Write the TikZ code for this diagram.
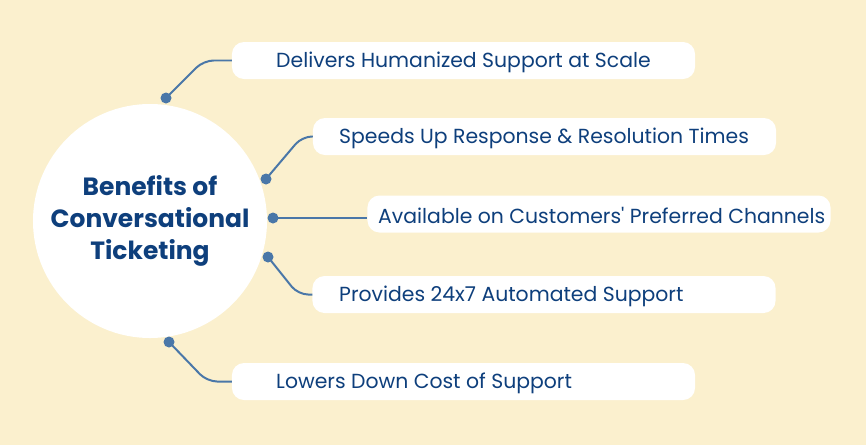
\documentclass[tikz,border=0pt]{standalone}
\usepackage{fontspec}
\setmainfont{Poppins}
\usepackage{xcolor}
\usetikzlibrary{positioning}
\definecolor{cream}{HTML}{FBF0CE}
\definecolor{navy}{HTML}{0E3F7C}
\definecolor{steel}{HTML}{4A77A8}
\tikzset{
  hub/.style={circle,fill=white,minimum size=7.02cm,inner sep=0pt,
              font=\fontsize{21.3}{27.5}\selectfont\bfseries,text=navy,align=center},
  item/.style={fill=white,rounded corners=0.36cm,minimum width=13.89cm,
               minimum height=1.11cm,inner sep=0pt},
  itemtext/.style={anchor=west,font=\fontsize{17.4}{20}\selectfont,text=navy,
                   inner sep=0pt,yshift=-0.05cm},
  dot/.style={circle,fill=steel,minimum size=0.33cm,inner sep=0pt},
  link/.style={steel,line width=1.7pt,rounded corners=0.3cm},
}

\begin{document}
\begin{tikzpicture}[x=0.03cm,y=-0.03cm]
  \fill[cream](0,0)rectangle(866,445);
  \useasboundingbox(0,0)rectangle(866,445);
  % Hub
  \node[hub](hub)at(150,221){Benefits of\\Conversational\\Ticketing};
  % Boxes
  \node[item](b1)at(463.5,60.5){};
  \node[item](b2)at(544.5,136.5){};
  \node[item](b3)at(599,214){};
  \node[item](b4)at(544,294.5){};
  \node[item](b5)at(463.5,381.5){};
  \node[itemtext](t1)at(276,60.5){Delivers Humanized Support at Scale};
  \node[itemtext](t2)at(339,136.5){Speeds Up Response \& Resolution Times};
  \node[itemtext](t3)at(378,214){Available on Customers\textquotesingle{} Preferred Channels};
  \node[itemtext](t4)at(339,294.5){Provides 24x7 Automated Support};
  \node[itemtext](t5)at(276,381.5){Lowers Down Cost of Support};
  % Dots on the hub rim
  \node[dot](d1)at(166,98){};
  \node[dot](d2)at(266,179){};
  \node[dot](d3)at(273,218){};
  \node[dot](d4)at(268,257){};
  \node[dot](d5)at(169,342){};
  % Connectors
  \draw[link](d1.center)--(203.5,60.5)--(b1.west);
  \draw[link](d2.center)--(302,136.5)--(b2.west);
  \draw[link](d3.center)--(d3.center-|b3.west);
  \draw[link](d4.center)--(298,294.5)--(b4.west);
  \draw[link](d5.center)--(207,381.5)--(b5.west);
\end{tikzpicture}
\end{document}
